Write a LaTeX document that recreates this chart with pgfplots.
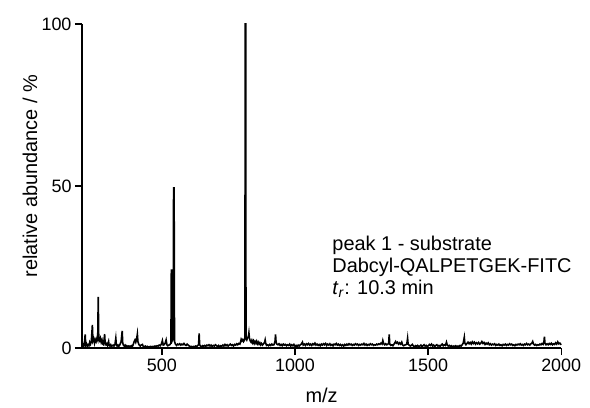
\documentclass[border=0pt]{standalone}
\usepackage{fontspec}
\setmainfont{Liberation Sans}
\usepackage{pgfplots}
\pgfplotsset{compat=1.18}
\begin{document}
\begin{tikzpicture}
\begin{axis}[
  at={(0,0)}, anchor=south west,
  scale only axis, width=479.2bp, height=324bp,
  xmin=200, xmax=2000, ymin=0, ymax=100,
  axis lines=left, axis line style={-, line width=1.6bp},
  xtick={500,1000,1500,2000}, ytick={0,50,100},
  tick align=outside, major tick length=7bp,
  tick style={line width=1.4bp, black},
  ticklabel style={font=\fontsize{18}{21}\selectfont},
  /pgf/number format/assume math mode=true,
  /pgf/number format/1000 sep={},
  xlabel={m/z}, ylabel={relative abundance / \%},
  label style={font=\fontsize{20}{24}\selectfont},
  xlabel style={at={(axis description cs:0.5,0)}, anchor=base, yshift=-54bp},
  ylabel style={at={(axis description cs:0,0.5)}, anchor=center, xshift=10bp, yshift=52bp},
  clip=false,
]
\addplot[black, line width=1.6bp, line join=miter] coordinates {
(200,0.5)(203,1.2)(206,0.6)(209,1.5)(212,4.2)(214,0.8)(217,1.3)(220,0.6)(223,1.0)(226,0.7)(229,1.8)(232,1.2)(235,2.0)(239,7.1)(241,2.2)(244,2.8)(247,1.5)(250,2.6)(253,2.0)(256,3.0)(259,2.4)(261,15.8)(263,2.6)(266,2.2)(269,3.0)(272,1.8)(275,2.5)(278,1.2)(281,1.0)(285,4.3)(287,1.5)(290,1.0)(293,1.4)(296,0.8)(300,2.0)(302,0.8)(305,0.6)(308,1.0)(311,0.5)(314,0.7)(317,0.9)(320,0.6)(324,1.2)(327,3.0)(329,1.0)(332,0.6)(335,0.9)(338,0.5)(341,0.8)(344,1.4)(347,2.0)(351,5.3)(353,1.5)(356,0.8)(359,0.6)(362,0.9)(365,0.5)(368,0.7)(371,0.4)(374,0.6)(377,0.4)(380,0.6)(383,0.5)(386,0.7)(389,0.5)(392,1.0)(396,2.0)(399,2.5)(402,1.8)(405,2.6)(408,4.3)(410,2.0)(413,1.2)(416,0.8)(419,0.6)(422,0.9)(427,1.1)(430,0.5)(434,0.4)(438,0.6)(442,0.3)(446,0.5)(450,0.3)(454,0.4)(458,0.5)(462,0.3)(466,0.5)(470,0.4)(474,0.6)(478,0.5)(482,0.7)(486,0.6)(490,0.9)(494,0.7)(498,1.2)(502,2.3)(505,0.9)(508,1.0)(512,1.4)(516,2.5)(519,1.0)(522,0.7)(526,0.9)(530,1.0)(534,1.5)(535.5,24.0)(538,24.0)(540,2.5)(542.5,3.0)(544,49.4)(546,49.4)(547.5,2.0)
(551,1.2)(555,0.8)(559,1.2)(563,1.0)(567,1.3)(571,0.9)(575,1.2)(579,1.0)(583,1.4)(587,1.0)(591,0.8)(595,1.2)(599,0.9)(603,0.6)(607,0.4)(611,0.5)(615,0.3)(619,0.5)(623,0.4)(627,0.6)(631,0.5)(635,0.8)(638,1.0)(640,4.5)(642,1.0)(645,0.6)(649,0.4)(653,0.7)(657,0.5)(661,0.8)(665,0.5)(669,0.9)(673,0.7)(677,1.0)(681,0.6)(685,0.9)(689,0.5)(693,0.8)(697,0.6)(701,1.0)(705,0.7)(709,0.5)(713,0.8)(717,0.4)(721,0.7)(725,0.5)(729,0.9)(733,0.6)(737,1.1)(741,0.7)(745,1.0)(749,0.6)(753,0.9)(757,1.2)(761,0.8)(765,1.0)(769,0.6)(773,1.1)(777,0.9)(781,1.3)(785,1.0)(789,1.4)(793,1.2)(796,2.0)(798,2.7)(801,2.2)(804,2.6)(807,2.0)(810,2.4)(812,3.0)(813,100)(815,100)(816,3.0)(819,2.5)(822,3.2)(825,3.5)(827,4.7)(829,3.0)(832,2.2)(835,1.8)(838,2.4)(841,1.6)(844,2.2)(847,1.4)(850,2.0)(853,1.5)(856,2.1)(859,1.3)(862,1.8)(865,1.2)(868,1.6)(871,1.0)(874,1.4)(878,0.9)(882,1.3)(886,1.8)(888,2.5)(890,1.5)(893,0.8)(897,1.0)(901,0.7)(905,1.1)(909,0.8)(913,1.2)(917,0.9)(921,1.0)(925,2.0)(927,4.2)(929,1.8)(932,1.2)(936,1.0)(940,1.3)(944,0.8)(948,1.1)(952,0.7)(956,1.2)(960,0.9)(964,1.1)(968,0.7)(972,1.0)(976,0.8)(980,1.2)(984,0.6)(988,1.0)(992,0.7)(996,1.1)(1000,0.5)(1004,0.8)(1008,0.4)(1012,0.9)(1016,0.6)(1020,1.0)(1024,1.2)(1028,1.8)(1031,0.9)(1035,1.2)(1039,0.8)(1043,1.3)(1047,1.0)(1051,1.4)(1055,0.9)(1059,1.2)(1063,0.8)(1067,1.3)(1071,1.0)(1075,1.5)(1079,0.9)(1083,1.2)(1087,0.8)(1091,1.1)(1095,0.7)(1099,1.2)(1103,0.9)(1107,1.3)(1111,1.0)(1115,1.4)(1119,0.8)(1123,1.2)(1127,0.9)
(1131,1.3)(1135,0.8)(1139,1.1)(1143,0.7)(1147,1.2)(1151,1.0)(1155,1.4)(1159,0.9)(1163,1.2)(1167,0.8)(1171,1.1)(1175,0.7)(1179,1.0)(1183,0.6)(1187,1.1)(1191,0.8)(1195,1.2)(1199,0.9)(1203,1.3)(1207,1.0)(1211,1.2)(1215,0.8)(1219,1.1)(1223,0.9)(1227,1.3)(1231,1.0)(1235,1.2)(1239,0.8)(1243,1.1)(1247,0.9)(1251,1.2)(1255,1.0)(1259,1.4)(1263,0.9)(1267,1.2)(1271,0.8)(1275,1.1)(1279,0.9)(1283,1.3)(1287,1.0)(1291,1.2)(1295,0.8)(1299,1.0)(1303,0.9)(1307,1.2)(1311,1.0)(1315,1.3)(1319,1.1)(1323,1.5)(1327,1.2)(1330,2.3)(1333,1.4)(1337,1.0)(1341,1.3)(1345,1.0)(1349,1.2)(1352,1.5)(1354,4.2)(1356,1.2)(1360,0.8)(1364,1.0)(1368,0.7)(1372,1.2)(1375,1.6)(1378,2.0)(1381,1.5)(1385,1.8)(1389,1.2)(1393,1.6)(1397,1.2)(1401,1.8)(1404,1.0)(1408,0.7)(1412,0.9)(1416,1.0)(1420,1.2)(1423,3.0)(1425,1.2)(1429,0.9)(1433,0.6)(1437,0.8)(1441,1.1)(1445,0.6)(1449,0.4)(1453,0.7)(1457,0.5)(1461,0.8)(1465,0.4)(1469,0.6)(1473,0.9)(1477,0.5)(1481,0.7)(1485,1.0)(1489,0.6)(1493,0.8)(1497,0.4)(1501,0.7)(1505,1.1)(1509,0.8)(1513,1.2)(1517,0.6)(1521,0.9)(1525,0.5)(1529,0.8)(1533,1.0)(1537,0.6)(1541,0.8)(1545,0.5)(1549,0.9)(1553,1.2)(1557,0.7)(1561,1.0)(1565,0.8)(1569,1.8)(1572,0.9)(1576,0.6)(1580,0.8)(1584,0.5)(1588,0.7)(1592,0.4)(1596,0.6)(1600,0.5)(1604,0.7)(1608,0.4)(1612,0.6)(1616,0.5)(1620,0.8)(1624,0.6)(1628,1.0)(1632,1.5)(1636,3.3)(1638,1.5)(1642,1.0)(1646,1.4)(1650,1.8)(1654,1.3)(1658,1.7)(1662,1.2)(1666,1.9)(1670,1.4)(1674,1.8)(1678,1.2)(1682,1.6)(1686,1.3)(1690,1.7)(1694,1.2)(1698,1.5)(1702,2.0)(1706,1.4)(1710,1.7)(1714,1.1)(1718,1.5)(1722,1.2)(1726,1.6)(1730,1.0)(1734,1.3)(1738,0.9)(1742,1.2)(1746,1.0)(1750,1.3)(1754,0.8)(1758,1.1)(1762,0.9)(1766,1.2)(1770,0.8)(1774,1.0)(1778,0.7)(1782,1.1)(1786,0.9)(1790,1.2)(1794,0.8)(1798,1.1)(1802,0.9)(1806,1.3)(1810,1.0)(1814,1.2)(1818,0.8)(1822,1.0)(1826,0.7)(1830,1.1)(1834,0.9)(1838,1.2)(1842,1.0)(1846,1.3)(1850,0.9)(1854,1.1)(1858,0.8)(1862,1.2)(1866,1.0)(1870,1.4)(1874,1.0)(1878,1.2)(1882,0.9)(1886,1.3)(1890,1.5)(1893,2.0)(1896,1.2)(1900,0.9)(1904,1.1)(1908,0.8)(1912,1.0)(1916,0.9)(1920,1.2)(1924,1.0)(1928,1.4)(1932,1.1)(1935,1.8)(1937,3.5)(1939,1.5)(1943,1.0)(1947,1.3)(1951,1.0)(1955,1.4)(1959,1.1)(1963,1.5)(1967,1.0)(1971,1.3)(1975,1.1)(1979,1.6)(1983,1.2)(1987,1.9)(1991,1.3)(1995,1.5)(2000,1.0)
};
\node[anchor=base west, font=\fontsize{20}{24}\selectfont, inner sep=0pt] at (axis cs:1140,30.2) {peak 1 - substrate};
\node[anchor=base west, font=\fontsize{20}{24}\selectfont, inner sep=0pt] at (axis cs:1140,23.4) {Dabcyl-QALPETGEK-FITC};
\node[anchor=base west, font=\fontsize{20}{24}\selectfont, inner sep=0pt] at (axis cs:1140,16.6) {\textit{t}\textsubscript{\textit{r}}: 10.3 min};
\end{axis}
\pgfresetboundingbox
\path[use as bounding box] (-82bp,-60bp) rectangle (508bp,348bp);
\end{tikzpicture}
\end{document}
